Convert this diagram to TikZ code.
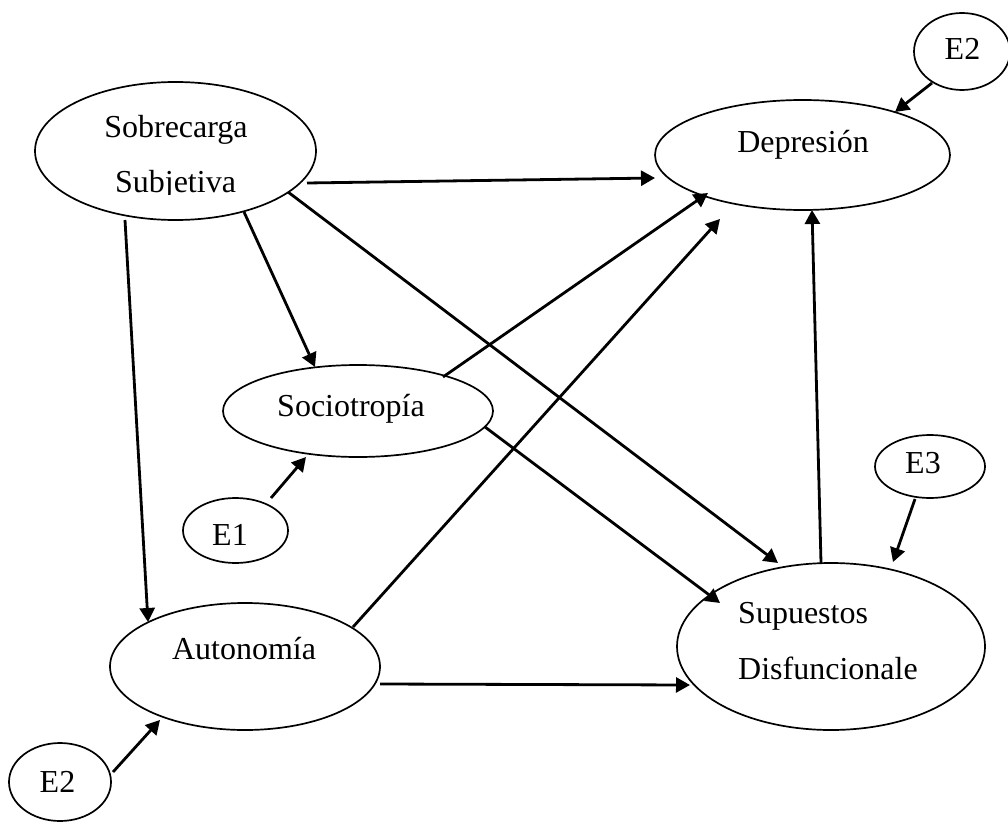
\documentclass[tikz,border=0pt]{standalone}
\usepackage{fontspec}
\setmainfont{Liberation Serif}
\usetikzlibrary{shapes.geometric,arrows.meta,calc}
\begin{document}
\begin{tikzpicture}[x=1pt,y=-1pt,
  ell/.style={draw=black,ellipse,line width=1.7pt,inner sep=0pt,outer sep=0pt},
  lbl/.style={anchor=base,inner sep=0pt,font=\fontsize{32}{56}\selectfont},
  arr/.style={line width=2.8pt,-{Triangle[length=14pt,width=15pt]}}]
\useasboundingbox (0,0) rectangle (1008,821);
% ellipses
\node[ell,minimum width=281pt,minimum height=138pt] (sob) at (175.5,151) {};
\node[ell,minimum width=295pt,minimum height=110pt] (dep) at (802.5,155) {};
\node[ell,minimum width=270pt,minimum height=92pt] (soc) at (358,411) {};
\node[ell,minimum width=270pt,minimum height=127pt] (aut) at (245,666.5) {};
\node[ell,minimum width=308pt,minimum height=167pt] (sup) at (831,646.5) {};
\node[ell,minimum width=96pt,minimum height=77pt] (e2a) at (962,51.5) {};
\node[ell,minimum width=105pt,minimum height=65pt] (e1) at (235.5,530.5) {};
\node[ell,minimum width=110pt,minimum height=63pt] (e3) at (930,466.5) {};
\node[ell,minimum width=102pt,minimum height=78pt] (e2b) at (60,782) {};
% labels
\node[lbl] (tsob1) at (176,138) {Sobrecarga};
\begin{scope}
\clip (0,0) rectangle (1008,194);
\node[lbl] (tsob2) at (175.5,193) {Subjetiva};
\end{scope}
\node[lbl] (tdep) at (803,153) {Depresión};
\node[lbl] (tsoc) at (351,416) {Sociotropía};
\node[lbl] (taut) at (244,659) {Autonomía};
\node[lbl,anchor=base west] (tsup1) at (738,623) {Supuestos};
\node[lbl,anchor=base west] (tsup2) at (738,679) {Disfuncionale};
\node[lbl] (te1) at (230,545) {E1};
\node[lbl] (te2a) at (962.5,60) {E2};
\node[lbl] (te2b) at (57.5,792) {E2};
\node[lbl] (te3) at (923,473) {E3};
% connectors
\draw[arr] ($(e2a)+(-30,31.5)$) -- ($(dep)+(92.5,-43)$);
\draw[arr] ($(e2b)+(53,-10)$) -- ($(aut)+(-85,53.5)$);
\draw[arr] ($(sob)+(-50.5,69)$) -- ($(aut)+(-97,-44.5)$);
\draw[arr] ($(sob)+(68.5,61)$) -- ($(soc)+(-43,-44)$);
\draw[arr] ($(e1)+(35.5,-32.5)$) -- ($(soc)+(-52,46)$);
\draw[arr] ($(sob)+(131.5,32)$) -- ($(dep)+(-147.5,23)$);
\draw[arr] ($(sob)+(112.5,41)$) -- ($(sup)+(-53,-83.5)$);
\draw[arr] ($(soc)+(85,-34)$) -- ($(dep)+(-94.5,38)$);
\draw[arr] ($(soc)+(127,16)$) -- ($(sup)+(-111,-43.5)$);
\draw[arr] ($(aut)+(108,-39.5)$) -- ($(dep)+(-82.5,64)$);
\draw[arr] ($(aut)+(135,17.5)$) -- ($(sup)+(-141,38.5)$);
\draw[arr] ($(sup)+(-10,-83.5)$) -- ($(dep)+(9.5,55)$);
\draw[arr] ($(e3)+(-15,32.5)$) -- ($(sup)+(62,-84.5)$);
\end{tikzpicture}
\end{document}
